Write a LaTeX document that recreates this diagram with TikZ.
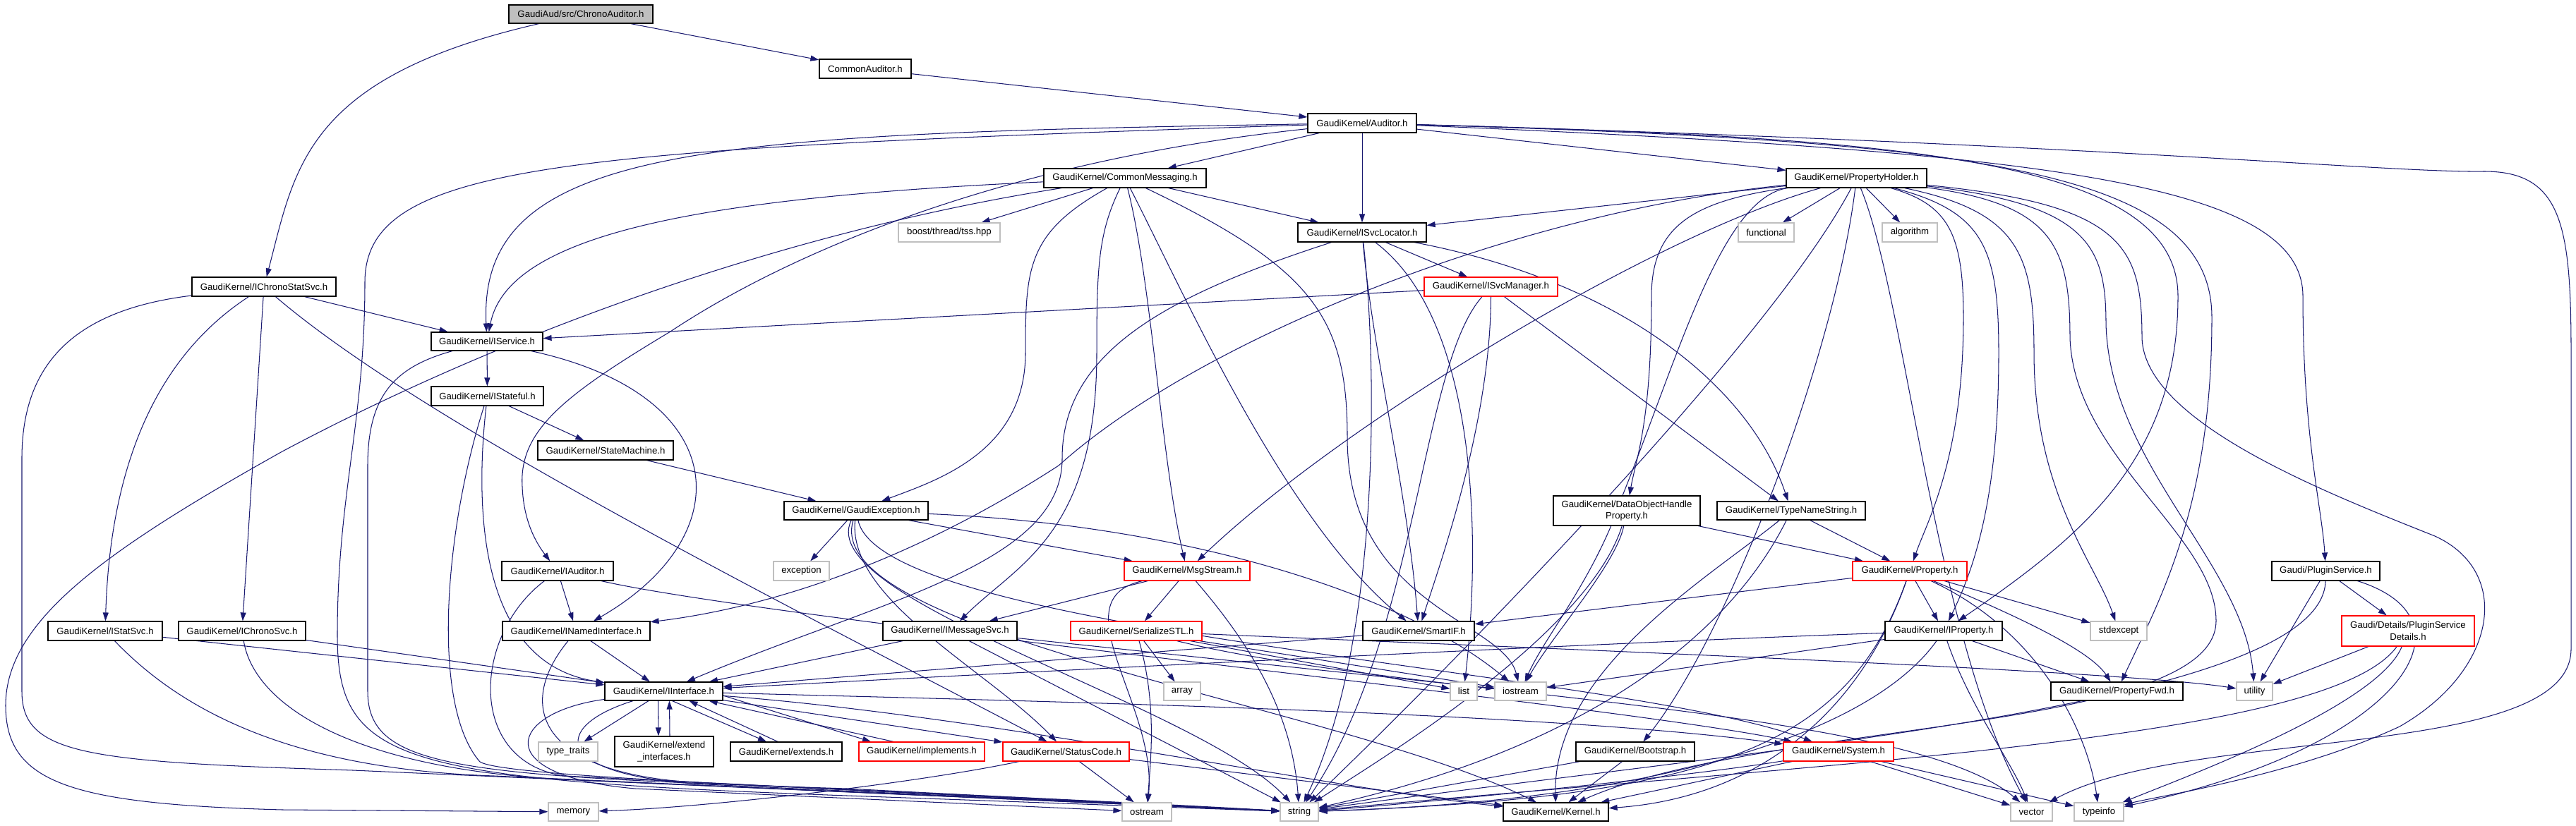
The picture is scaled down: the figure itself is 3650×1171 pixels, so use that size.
\documentclass[tikz,border=0pt]{standalone}
\usepackage{fontspec}
\setmainfont{Liberation Sans}
\usetikzlibrary{arrows.meta}
\definecolor{edgec}{HTML}{191970}
\definecolor{gbord}{HTML}{BFBFBF}
\pgfdeclarelayer{bg}
\pgfdeclarelayer{edges}
\pgfsetlayers{bg,edges,main}
\newcommand{\nd}[7]{\node[#6, minimum width={(#4-#2)*0.5pt}, minimum height={(#5-#3)*0.5pt}] (#1) at ({(#2+#4)/2},{(#3+#5)/2}) {#7};}
\tikzset{
  nbase/.style={rectangle, inner sep=1pt, align=center, fill=white, line width=0.6pt, font=\fontsize{6.6}{8.3}\selectfont},
  nb/.style={nbase, draw=black},
  ng/.style={nbase, draw=gbord},
  nr/.style={nbase, draw=red},
  nroot/.style={nbase, draw=black, fill=gbord},
  e/.style={draw=edgec, line width=0.52pt, -{Triangle[length=6pt,width=4pt]}}
}
\begin{document}
\begin{tikzpicture}[x=0.5pt,y=-0.5pt]
\useasboundingbox (0,0) rectangle (3650,1171);
\begin{pgfonlayer}{bg}
\fill[white] (0,0) rectangle (3650,1171);
\end{pgfonlayer}
% nodes
\nd{chrono}{721}{7}{925}{33}{nroot}{GaudiAud/src/ChronoAuditor.h}
\nd{commonaud}{1161}{84}{1291}{111}{nb}{CommonAuditor.h}
\nd{auditor}{1853}{161}{2007}{188}{nb}{GaudiKernel/Auditor.h}
\nd{commonmsg}{1479}{239}{1709}{266}{nb}{GaudiKernel/CommonMessaging.h}
\nd{propholder}{2531}{239}{2730}{266}{nb}{GaudiKernel/PropertyHolder.h}
\nd{boost}{1273}{316}{1417}{343}{ng}{boost/thread/tss.hpp}
\nd{isvcloc}{1839}{316}{2021}{343}{nb}{GaudiKernel/ISvcLocator.h}
\nd{functional}{2463}{316}{2542}{343}{ng}{functional}
\nd{algorithm}{2667}{316}{2745}{343}{ng}{algorithm}
\nd{ichronostat}{272}{393}{476}{420}{nb}{GaudiKernel/IChronoStatSvc.h}
\nd{isvcmgr}{2018}{393}{2207}{420}{nr}{GaudiKernel/ISvcManager.h}
\nd{iservice}{611}{471}{769}{497}{nb}{GaudiKernel/IService.h}
\nd{istateful}{611}{548}{770}{575}{nb}{GaudiKernel/IStateful.h}
\nd{statemachine}{762}{625}{954}{652}{nb}{GaudiKernel/StateMachine.h}
\nd{gaudiexc}{1111}{711}{1315}{737}{nb}{GaudiKernel/GaudiException.h}
\nd{dohp}{2201}{703}{2409}{745}{nb}{GaudiKernel/DataObjectHandle\\Property.h}
\nd{typename}{2433}{711}{2643}{737}{nb}{GaudiKernel/TypeNameString.h}
\nd{iauditor}{711}{796}{869}{823}{nb}{GaudiKernel/IAuditor.h}
\nd{exception}{1096}{796}{1175}{823}{ng}{exception}
\nd{msgstream}{1593}{796}{1771}{823}{nr}{GaudiKernel/MsgStream.h}
\nd{property}{2625}{796}{2787}{823}{nr}{GaudiKernel/Property.h}
\nd{pluginsvc}{3219}{796}{3372}{823}{nb}{Gaudi/PluginService.h}
\nd{istatsvc}{68}{881}{230}{908}{nb}{GaudiKernel/IStatSvc.h}
\nd{ichronosvc}{253}{881}{433}{908}{nb}{GaudiKernel/IChronoSvc.h}
\nd{inamed}{712}{881}{921}{908}{nb}{GaudiKernel/INamedInterface.h}
\nd{imsgsvc}{1251}{881}{1441}{908}{nb}{GaudiKernel/IMessageSvc.h}
\nd{serial}{1517}{881}{1703}{908}{nr}{GaudiKernel/SerializeSTL.h}
\nd{smartif}{1931}{881}{2089}{908}{nb}{GaudiKernel/SmartIF.h}
\nd{iproperty}{2671}{881}{2837}{908}{nb}{GaudiKernel/IProperty.h}
\nd{stdexcept}{2962}{881}{3042}{908}{ng}{stdexcept}
\nd{details}{3318}{873}{3506}{916}{nr}{Gaudi/Details/PluginService\\Details.h}
\nd{iinterface}{857}{967}{1024}{993}{nb}{GaudiKernel/IInterface.h}
\nd{array}{1649}{967}{1701}{993}{ng}{array}
\nd{list}{2055}{967}{2093}{993}{ng}{list}
\nd{iostream}{2118}{967}{2191}{993}{ng}{iostream}
\nd{propfwd}{2906}{967}{3093}{993}{nb}{GaudiKernel/PropertyFwd.h}
\nd{utility}{3169}{967}{3220}{993}{ng}{utility}
\nd{typetraits}{763}{1052}{847}{1079}{ng}{type\_traits}
\nd{extif}{871}{1044}{1011}{1087}{nb}{GaudiKernel/extend\\\_interfaces.h}
\nd{extends}{1035}{1052}{1193}{1079}{nb}{GaudiKernel/extends.h}
\nd{implements}{1217}{1052}{1395}{1079}{nr}{GaudiKernel/implements.h}
\nd{statuscode}{1421}{1052}{1600}{1079}{nr}{GaudiKernel/StatusCode.h}
\nd{bootstrap}{2233}{1052}{2401}{1079}{nb}{GaudiKernel/Bootstrap.h}
\nd{system}{2527}{1052}{2683}{1079}{nr}{GaudiKernel/System.h}
\nd{memory}{777}{1138}{848}{1164}{ng}{memory}
\nd{ostream}{1590}{1138}{1660}{1164}{ng}{ostream}
\nd{string}{1814}{1138}{1868}{1164}{ng}{string}
\nd{kernel}{2130}{1138}{2279}{1164}{nb}{GaudiKernel/Kernel.h}
\nd{vector}{2849}{1138}{2908}{1164}{ng}{vector}
\nd{typeinfo}{2939}{1138}{3009}{1164}{ng}{typeinfo}
% edges
\begin{pgfonlayer}{edges}
\draw[e] (chrono) -- (commonaud);
\draw[e] (chrono) .. controls (430,110) and (418,240) .. (ichronostat);
\draw[e] (commonaud) -- (auditor);
\draw[e] (auditor) -- (commonmsg);
\draw[e] (auditor) -- (isvcloc);
\draw[e] (auditor) -- (propholder);
\draw[e] (auditor) .. controls (1000,190) and (677,205) .. (iservice);
\draw[e] (auditor) .. controls (1400,230) and (1100,370) .. (950,470) .. controls (800,560) and (735,610) .. (740,690) .. controls (742,740) and (760,770) .. (iauditor);
\draw[e] (auditor) .. controls (800,212) and (517,230) .. (517,400) .. controls (517,600) and (478,700) .. (478,900) .. controls (478,1080) and (560,1105) .. (1200,1128) -- (string);
\draw[e] (auditor) .. controls (2900,215) and (3263,260) .. (3263,420) .. controls (3263,620) and (3290,720) .. (pluginsvc);
\draw[e] (auditor) .. controls (2700,195) and (3086,225) .. (3086,420) .. controls (3086,650) and (2950,760) .. (iproperty);
\draw[e] (auditor) .. controls (2800,200) and (3134,240) .. (3134,450) .. controls (3134,720) and (3060,850) .. (propfwd);
\draw[e] (auditor) .. controls (3000,205) and (3380,245) .. (3520,243) .. controls (3630,243) and (3643,320) .. (3643,500) -- (3643,920) .. controls (3643,1080) and (3100,1030) .. (vector);
% CommonMessaging
\draw[e] (commonmsg) -- (boost);
\draw[e] (commonmsg) -- (isvcloc);
\draw[e] (commonmsg) .. controls (1000,280) and (720,330) .. (iservice);
\draw[e] (commonmsg) .. controls (1455,330) and (1453,380) .. (1453,500) .. controls (1453,640) and (1330,680) .. (gaudiexc);
\draw[e] (commonmsg) .. controls (1556,330) and (1554,380) .. (1554,500) .. controls (1554,760) and (1440,800) .. (imsgsvc);
\draw[e] (commonmsg) .. controls (1632,400) and (1645,650) .. (msgstream);
\draw[e] (commonmsg) .. controls (1680,420) and (1820,740) .. (smartif);
\draw[e] (commonmsg) .. controls (1100,330) and (700,480) .. (400,640) .. controls (150,780) and (8,880) .. (8,1000) .. controls (8,1110) and (100,1140) .. (400,1148) -- (memory);
\draw[e] (commonmsg) .. controls (1860,380) and (1909,450) .. (1909,620) .. controls (1909,860) and (2130,880) .. (iostream);
% PropertyHolder
\draw[e] (propholder) -- (functional);
\draw[e] (propholder) -- (algorithm);
\draw[e] (propholder) -- (isvcloc);
\draw[e] (propholder) .. controls (2400,285) and (2340,320) .. (2340,420) .. controls (2340,600) and (2318,650) .. (dohp);
\draw[e] (propholder) .. controls (2760,290) and (2782,330) .. (2782,450) .. controls (2782,650) and (2730,740) .. (property);
\draw[e] (propholder) .. controls (2810,300) and (2832,350) .. (2832,500) .. controls (2832,700) and (2800,800) .. (iproperty);
\draw[e] (propholder) .. controls (2350,330) and (1900,600) .. (msgstream);
\draw[e] (propholder) .. controls (2150,300) and (1700,480) .. (1500,660) .. controls (1300,790) and (1100,860) .. (inamed);
\draw[e] (propholder) .. controls (2860,300) and (2882,360) .. (2882,500) .. controls (2882,700) and (2970,800) .. (stdexcept);
\draw[e] (propholder) .. controls (2960,290) and (2984,350) .. (2984,460) .. controls (2990,660) and (3180,800) .. (utility);
\draw[e] (propholder) .. controls (3010,290) and (3035,350) .. (3035,480) .. controls (3040,600) and (3300,700) .. (3450,760) .. controls (3560,810) and (3540,950) .. (3400,1030) .. controls (3250,1100) and (3050,1130) .. (typeinfo);
\draw[e] (propholder) .. controls (2440,280) and (2380,500) .. (2300,700) .. controls (2260,820) and (2190,900) .. (iostream);
\draw[e] (propholder) .. controls (2600,500) and (2450,900) .. (bootstrap);
\draw[e] (propholder) .. controls (2910,290) and (2933,350) .. (2933,480) .. controls (2940,650) and (3140,760) .. (3140,880) .. controls (3140,1040) and (2500,1020) .. (kernel);
\draw[e] (propholder) .. controls (2700,420) and (2740,900) .. (vector);
\draw[e] (propholder) .. controls (2500,500) and (2000,1000) .. (string);
% ISvcLocator
\draw[e] (isvcloc) -- (isvcmgr);
\draw[e] (isvcloc) .. controls (1650,420) and (1505,500) .. (1505,650) .. controls (1505,800) and (1250,850) .. (iinterface);
\draw[e] (isvcloc) .. controls (1945,500) and (1995,700) .. (smartif);
\draw[e] (isvcloc) .. controls (2300,400) and (2480,550) .. (typename);
\draw[e] (isvcloc) .. controls (2090,450) and (2100,750) .. (list);
\draw[e] (isvcloc) .. controls (1950,500) and (1960,900) .. (string);
% IChronoStatSvc
\draw[e] (ichronostat) -- (iservice);
\draw[e] (ichronostat) .. controls (200,520) and (155,700) .. (istatsvc);
\draw[e] (ichronostat) -- (ichronosvc);
\draw[e] (ichronostat) .. controls (100,440) and (31,520) .. (31,650) -- (31,980) .. controls (31,1070) and (120,1080) .. (500,1092) -- (string);
\draw[e] (ichronostat) .. controls (600,600) and (1100,850) .. (statuscode);
% ISvcManager
\draw[e] (isvcmgr) -- (iservice);
\draw[e] (isvcmgr) .. controls (2112,600) and (2040,800) .. (smartif);
\draw[e] (isvcmgr) -- (typename);
\draw[e] (isvcmgr) .. controls (2012,520) and (2010,900) .. (string);
% IService, IStateful, StateMachine
\draw[e] (iservice) -- (istateful);
\draw[e] (iservice) .. controls (1040,560) and (1050,760) .. (inamed);
\draw[e] (iservice) .. controls (560,520) and (521,560) .. (521,660) -- (521,980) .. controls (521,1090) and (650,1100) .. (1200,1118) -- (string);
\draw[e] (istateful) -- (statemachine);
\draw[e] (istateful) .. controls (675,700) and (670,940) .. (iinterface);
\draw[e] (istateful) .. controls (630,750) and (610,1000) .. (680,1080) .. controls (720,1105) and (1300,1120) .. (string);
\draw[e] (statemachine) -- (gaudiexc);
% GaudiException
\draw[e] (gaudiexc) -- (exception);
\draw[e] (gaudiexc) -- (msgstream);
\draw[e] (gaudiexc) .. controls (1200,850) and (1400,950) .. (statuscode);
\draw[e] (gaudiexc) .. controls (1150,850) and (1700,1000) .. (string);
\draw[e] (gaudiexc) .. controls (1250,900) and (2300,950) .. (system);
\draw[e] (gaudiexc) .. controls (1160,900) and (1900,1000) .. (kernel);
\draw[e] (gaudiexc) .. controls (1700,745) and (2000,850) .. (iostream);
% DataObjectHandleProperty, TypeNameString
\draw[e] (dohp) -- (property);
\draw[e] (dohp) .. controls (2290,800) and (2200,900) .. (iostream);
\draw[e] (dohp) .. controls (2250,900) and (1950,1080) .. (string);
\draw[e] (typename) -- (property);
\draw[e] (typename) .. controls (2450,900) and (2250,1060) .. (string);
\draw[e] (typename) .. controls (2420,820) and (2200,950) .. (kernel);
% Property
\draw[e] (property) -- (smartif);
\draw[e] (property) -- (iproperty);
\draw[e] (property) -- (stdexcept);
\draw[e] (property) .. controls (2850,870) and (2960,920) .. (propfwd);
\draw[e] (property) .. controls (2620,1050) and (2450,1130) .. (string);
\draw[e] (property) .. controls (2900,900) and (2960,1050) .. (typeinfo);
\draw[e] (property) .. controls (2640,1000) and (2500,1130) .. (kernel);
% IProperty
\draw[e] (iproperty) .. controls (2300,910) and (1500,950) .. (iinterface);
\draw[e] (iproperty) -- (iostream);
\draw[e] (iproperty) -- (propfwd);
\draw[e] (iproperty) .. controls (2790,1000) and (2850,1080) .. (vector);
\draw[e] (iproperty) .. controls (2650,1040) and (2350,1135) .. (string);
% PluginService
\draw[e] (pluginsvc) -- (details);
\draw[e] (pluginsvc) -- (utility);
\draw[e] (pluginsvc) .. controls (3290,1000) and (2500,1060) .. (string);
\draw[e] (pluginsvc) .. controls (3520,880) and (3400,1060) .. (typeinfo);
\draw[e] (details) -- (utility);
\draw[e] (details) .. controls (3370,1000) and (3100,1100) .. (typeinfo);
\draw[e] (details) .. controls (3300,1050) and (2600,1080) .. (string);
% IAuditor, INamedInterface, IStatSvc, IChronoSvc
\draw[e] (iauditor) -- (inamed);
\draw[e] (iauditor) .. controls (1100,880) and (2300,1000) .. (system);
\draw[e] (iauditor) .. controls (670,900) and (660,1080) .. (800,1100) -- (string);
\draw[e] (inamed) -- (iinterface);
\draw[e] (inamed) .. controls (730,1000) and (760,1100) .. (1000,1110) -- (string);
\draw[e] (istatsvc) -- (iinterface);
\draw[e] (istatsvc) .. controls (250,1000) and (400,1090) .. (700,1100) -- (string);
\draw[e] (ichronosvc) -- (iinterface);
\draw[e] (ichronosvc) .. controls (360,1000) and (500,1090) .. (800,1105) -- (string);
% IMessageSvc, MsgStream, SerializeSTL, SmartIF
\draw[e] (imsgsvc) -- (iinterface);
\draw[e] (imsgsvc) -- (string);
\draw[e] (imsgsvc) -- (iostream);
\draw[e] (msgstream) -- (imsgsvc);
\draw[e] (msgstream) -- (serial);
\draw[e] (msgstream) .. controls (1760,900) and (1830,1000) .. (string);
\draw[e] (msgstream) .. controls (1500,850) and (1640,1000) .. (ostream);
\draw[e] (serial) -- (array);
\draw[e] (serial) -- (list);
\draw[e] (serial) -- (iostream);
\draw[e] (serial) .. controls (1640,1000) and (1630,1080) .. (ostream);
\draw[e] (serial) .. controls (2200,920) and (3000,950) .. (utility);
\draw[e] (serial) .. controls (2000,990) and (2700,1000) .. (vector);
\draw[e] (smartif) -- (iinterface);
% IInterface
\draw[e] (iinterface) -- (typetraits);
\draw[e] ([xshift=-4pt]iinterface.south) -- ([xshift=-4pt]extif.north);
\draw[e] ([xshift=4pt]extif.north) -- ([xshift=4pt]iinterface.south);
\draw[e] ([xshift=6pt]iinterface.south) -- ([xshift=-14pt]extends.north);
\draw[e] ([xshift=-6pt]extends.north) -- ([xshift=18pt]iinterface.south);
\draw[e] ([yshift=-3pt]iinterface.east) -- ([xshift=-36pt]implements.north);
\draw[e] ([xshift=-20pt]implements.north) -- ([xshift=-10pt]iinterface.south east);
\draw[e] (iinterface) -- (statuscode);
\draw[e] (iinterface) .. controls (1500,995) and (2200,1010) .. (system);
\draw[e] (iinterface) .. controls (1400,1015) and (1900,1120) .. (kernel);
\draw[e] (iinterface) .. controls (720,1010) and (690,1100) .. (900,1118) -- (ostream);
\draw[e] (iinterface) .. controls (780,1030) and (780,1100) .. (1000,1112) -- (string);
% StatusCode, Bootstrap, System
\draw[e] (statuscode) -- (ostream);
\draw[e] (statuscode) -- (kernel);
\draw[e] (statuscode) .. controls (1300,1110) and (1000,1145) .. (memory);
\draw[e] (bootstrap) -- (string);
\draw[e] (bootstrap) -- (kernel);
\draw[e] (system) .. controls (2400,1100) and (2000,1140) .. (string);
\draw[e] (system) -- (kernel);
\draw[e] (system) -- (vector);
\draw[e] (system) -- (typeinfo);
\end{pgfonlayer}
\end{tikzpicture}
\end{document}
